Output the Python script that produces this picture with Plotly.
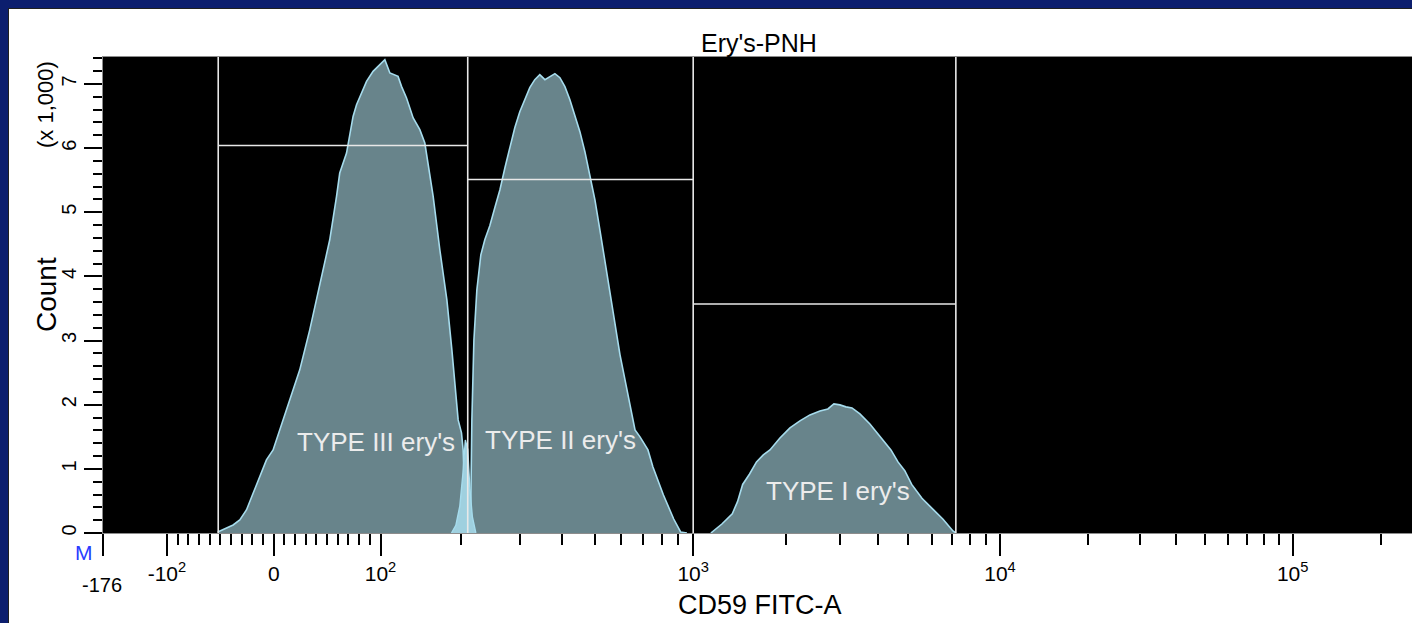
import numpy as np
import plotly.graph_objects as go

# ---------------- data (display channel 0..1024 of the biexponential FITC axis, counts) ----------------
type3_channel = [89.5, 96.3, 101.5, 106.7, 111.9, 117.1, 122.3, 127.5, 132.7, 137.9, 145.7, 153.5, 161.3,
                 169.1, 176.9, 182.2, 184.7, 190.0, 192.5, 195.1, 197.8, 202.9, 205.6, 210.7, 216.0, 219.9,
                 223.8, 230.2, 232.9, 236.8, 242.0, 247.2, 251.1, 253.7, 257.6, 262.8, 268.3, 272.2, 275.3,
                 277.1, 279.7, 281.0, 282.3, 283.1]
type3_count = [15, 73, 125, 203, 359, 619, 878, 1139, 1295, 1607, 2075, 2543, 3167, 3869, 4571, 5246, 5611,
               5923, 6182, 6494, 6677, 6911, 7040, 7196, 7301, 7379, 7171, 7118, 6962, 6781, 6469, 6287, 6079,
               5714, 5246, 4415, 3635, 2855, 2075, 1763, 1560, 1295, 515, 0]

mid_channel = [271.9, 275.3, 278.4, 280.7, 282.7, 284.6, 286.2, 288.2, 290.9]
mid_count = [0, 120, 420, 900, 1450, 1300, 700, 250, 0]

type2_channel = [286.2, 287.0, 287.8, 289.4, 291.7, 294.8, 297.9, 301.8, 305.7, 309.7, 313.6, 317.5, 321.3,
                 325.2, 329.1, 333.0, 336.9, 340.8, 344.8, 348.7, 352.6, 356.5, 360.4, 364.3, 368.2, 372.1,
                 376.0, 379.9, 383.8, 387.7, 391.6, 395.6, 399.5, 403.4, 407.3, 411.2, 415.1, 419.0, 425.2,
                 429.1, 437.2, 445.3, 450.7, 455.6]
type2_count = [0, 515, 1763, 3011, 3791, 4337, 4571, 4789, 5070, 5351, 5694, 6006, 6318, 6568, 6755, 6942,
               7067, 7145, 7067, 7114, 7160, 7098, 6958, 6755, 6521, 6256, 5944, 5585, 5195, 4727, 4228, 3744,
               3245, 2777, 2387, 1997, 1607, 1498, 1295, 1030, 596, 218, 16, 0]

type1_channel = [474.3, 482.9, 491.0, 495.1, 499.1, 504.5, 509.9, 515.2, 520.4, 528.2, 536.0, 543.8, 551.6,
                 559.4, 565.6, 570.3, 575.0, 579.7, 584.4, 590.6, 598.4, 606.2, 614.8, 620.3, 625.6, 631.0,
                 639.0, 647.1, 655.3, 663.2, 665.5]
type1_count = [0, 140, 300, 488, 757, 920, 1108, 1217, 1295, 1482, 1638, 1747, 1841, 1903, 1934, 2012, 1997,
               1966, 1950, 1856, 1700, 1513, 1295, 1108, 972, 757, 541, 381, 218, 31, 0]

# gates (fluorescence units) and gate heights (counts)
gate_edges = [-52, 210, 1000, 7180]
gate_levels = [6040, 5510, 3570]
gate_labels = ["TYPE III ery's", "TYPE II ery's", "TYPE I ery's"]

# axis ticks
x_major_vals = [-176, -100, 0, 100, 1000, 10000, 100000]
x_major_text = ["", "-10<sup>2</sup>", "0", "10<sup>2</sup>", "10<sup>3</sup>", "10<sup>4</sup>", "10<sup>5</sup>"]
x_minor_vals = ([-90, -80, -70, -60, -50, -40, -30, -20, -10, 10, 20, 30, 40, 50, 60, 70, 80, 90]
                + [200, 300, 400, 500, 600, 700, 800, 900]
                + [2000, 3000, 4000, 5000, 6000, 7000, 8000, 9000]
                + [20000, 30000, 40000, 50000, 60000, 70000, 80000, 90000, 200000])
y_major_vals = [0, 1000, 2000, 3000, 4000, 5000, 6000, 7000]
y_major_text = ["0", "1", "2", "3", "4", "5", "6", "7"]

# ---------------- biexponential display scale ----------------
LIN_SLOPE = 0.8332          # channels per unit in the linear zone (|v| <= 100)
ZERO_CH = 133.2
POS_LOG = [2.0, 2.301, 2.477, 2.699, 3.0, 4.0, 5.0, 5.4185]
POS_CH = [216.5, 279.0, 325.2, 383.8, 460.5, 699.9, 928.3, 1024.0]
NEG_DECADE = 203.3


def biex(v):
    v = np.atleast_1d(np.asarray(v, float))
    out = np.empty_like(v)
    lin = np.abs(v) <= 100
    out[lin] = ZERO_CH + LIN_SLOPE * v[lin]
    pos = v > 100
    out[pos] = np.interp(np.log10(v[pos]), POS_LOG, POS_CH)
    neg = v < -100
    out[neg] = ZERO_CH - 100 * LIN_SLOPE - (np.log10(-v[neg]) - 2) * NEG_DECADE
    return out


# ---------------- figure geometry ----------------
W, H = 1412, 623
ML, MR, MT, MB = 103, 0, 57, 90
PW, PH = W - ML - MR, H - MT - MB
X_RANGE = [float(biex(-176)[0]), 1021.4]
Y_RANGE = [0, 7420]


def px(xp):
    return (xp - ML) / PW


def py(yp):
    return (H - MB - yp) / PH


FILL = "#68848b"
EDGE = "#a6dced"
MIDFILL = "#9fd0df"
FONT = "Liberation Sans, Arial, sans-serif"

fig = go.Figure()
for xs, ys in [(type3_channel, type3_count), (type2_channel, type2_count), (type1_channel, type1_count)]:
    fig.add_trace(go.Scatter(x=xs, y=ys, mode="lines", fill="tozeroy", fillcolor=FILL,
                             line=dict(color=EDGE, width=1.6), hoverinfo="skip"))
fig.add_trace(go.Scatter(x=mid_channel, y=mid_count, mode="lines", fill="tozeroy", fillcolor=MIDFILL,
                         line=dict(color=EDGE, width=1.4), hoverinfo="skip"))

shapes = []
gate_ch = biex(gate_edges)
GATE_COLOR = "#e8e8e8"
for xc in gate_ch:
    shapes.append(dict(type="line", xref="x", yref="paper", x0=xc, x1=xc, y0=0, y1=1,
                       line=dict(color=GATE_COLOR, width=1.6), layer="above"))
for i, lvl in enumerate(gate_levels):
    shapes.append(dict(type="line", xref="x", yref="y", x0=gate_ch[i], x1=gate_ch[i + 1], y0=lvl, y1=lvl,
                       line=dict(color=GATE_COLOR, width=1.6), layer="above"))

# navy window frame (top and left edges)
NAVY = "#0c1e6e"
shapes.append(dict(type="rect", xref="paper", yref="paper", x0=px(0), x1=px(W), y0=py(8), y1=py(0),
                   fillcolor=NAVY, line=dict(width=0), layer="above"))
shapes.append(dict(type="rect", xref="paper", yref="paper", x0=px(0), x1=px(8), y0=py(H), y1=py(0),
                   fillcolor=NAVY, line=dict(width=0), layer="above"))
shapes.append(dict(type="line", xref="paper", yref="paper", x0=px(8), x1=px(W), y0=py(8.5), y1=py(8.5),
                   line=dict(color="#202020", width=1), layer="above"))
shapes.append(dict(type="line", xref="paper", yref="paper", x0=px(8.5), x1=px(8.5), y0=py(H), y1=py(8),
                   line=dict(color="#202020", width=1), layer="above"))

annotations = []
label_pos = [(212.8, 1420), (356.8, 1451), (573.4, 655)]
for (lx, ly), txt in zip(label_pos, gate_labels):
    annotations.append(dict(x=lx, y=ly, xref="x", yref="y", text=txt, showarrow=False,
                            font=dict(family=FONT, size=26, color="#ececec"),
                            xanchor="center", yanchor="middle"))
annotations += [
    dict(x=px(759), y=py(43), xref="paper", yref="paper", text="Ery's-PNH", showarrow=False,
         font=dict(family=FONT, size=25, color="black"), xanchor="center", yanchor="middle"),
    dict(x=px(760), y=py(605), xref="paper", yref="paper", text="CD59 FITC-A", showarrow=False,
         font=dict(family=FONT, size=27, color="black"), xanchor="center", yanchor="middle"),
    dict(x=px(46), y=py(295), xref="paper", yref="paper", text="Count", showarrow=False, textangle=-90,
         font=dict(family=FONT, size=28, color="black"), xanchor="center", yanchor="middle"),
    dict(x=px(46), y=py(105), xref="paper", yref="paper", text="(x 1,000)", showarrow=False, textangle=-90,
         font=dict(family=FONT, size=22, color="black"), xanchor="center", yanchor="middle"),
    dict(x=px(101.7), y=py(585), xref="paper", yref="paper", text="-176", showarrow=False,
         font=dict(family=FONT, size=20, color="black"), xanchor="center", yanchor="middle"),
    dict(x=px(84), y=py(552), xref="paper", yref="paper", text="M", showarrow=False,
         font=dict(family=FONT, size=21, color="#2a3cff"), xanchor="center", yanchor="middle"),
]

fig.update_layout(
    width=W, height=H,
    margin=dict(l=ML, r=MR, t=MT, b=MB, autoexpand=False),
    paper_bgcolor="white", plot_bgcolor="black",
    showlegend=False, hovermode=False,
    shapes=shapes, annotations=annotations,
    xaxis=dict(range=X_RANGE, tickmode="array", tickvals=biex(x_major_vals).tolist(), ticktext=x_major_text,
               ticks="outside", ticklen=22, tickwidth=2, tickcolor="black",
               tickfont=dict(family=FONT, size=21, color="black"),
               showgrid=False, zeroline=False, showline=True, linecolor="#8c8c8c", linewidth=1, mirror=True,
               minor=dict(tickmode="array", tickvals=biex(x_minor_vals).tolist(), ticks="outside",
                          ticklen=11, tickwidth=2, tickcolor="black", showgrid=False),
               fixedrange=True),
    yaxis=dict(range=Y_RANGE, tickmode="array", tickvals=y_major_vals, ticktext=y_major_text,
               ticks="outside", ticklen=18, tickwidth=2, tickcolor="black", tickangle=-90,
               tickfont=dict(family=FONT, size=20, color="black"),
               showgrid=False, zeroline=False, showline=True, linecolor="#8c8c8c", linewidth=1, mirror=True,
               minor=dict(dtick=200, tick0=0, ticks="outside", ticklen=9, tickwidth=2, tickcolor="black",
                          showgrid=False),
               fixedrange=True),
)

fig.write_html("out.html")
